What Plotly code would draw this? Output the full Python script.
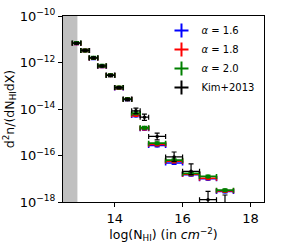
import plotly.graph_objects as go

# bin centres and half-widths in log(N_HI)
bin_centers = [12.875, 13.125, 13.375, 13.625, 13.875, 14.125, 14.375, 14.625, 14.875,
               15.25, 15.75, 16.25, 16.75, 17.25]
bin_halfwidths = [0.125, 0.125, 0.125, 0.125, 0.125, 0.125, 0.125, 0.125, 0.125,
                  0.25, 0.25, 0.25, 0.25, 0.25]

# alpha = 1.6
alpha16 = [6.76e-12, 3.31e-12, 1.55e-12, 6.9e-13, 2.82e-13, 8.1e-14, 2.6e-14, 5.25e-15, 1.41e-15,
           2.69e-16, 4.79e-17, 1.51e-17, 1.0e-17, 2.82e-18]
# alpha = 1.8
alpha18 = [6.76e-12, 3.31e-12, 1.57e-12, 7.0e-13, 2.82e-13, 8.2e-14, 2.62e-14, 5.62e-15, 1.48e-15,
           3.02e-16, 5.62e-17, 1.58e-17, 1.05e-17, 3.02e-18]
# alpha = 2.0
alpha20 = [6.9e-12, 3.31e-12, 1.62e-12, 7.2e-13, 2.85e-13, 8.5e-14, 2.65e-14, 6.61e-15, 1.58e-15,
           3.39e-16, 6.31e-17, 1.70e-17, 1.26e-17, 3.24e-18]
# Kim+2013
kim2013 = [6.76e-12, 3.31e-12, 1.58e-12, 7.08e-13, 2.82e-13, 8.32e-14, 2.63e-14, 8.32e-15, 4.47e-15,
           6.61e-16, 8.71e-17, 2.09e-17, 1.26e-18, 5.0e-19]
kim_err_plus = [6.0e-13, 3.0e-13, 1.5e-13, 6.5e-14, 2.6e-14, 8.0e-15, 2.6e-15, 2.6e-15, 1.6e-15,
                2.6e-16, 5.4e-17, 2.28e-17, 1.62e-18, 1.5e-18]
kim_err_minus = [6.0e-13, 3.0e-13, 1.5e-13, 6.5e-14, 2.6e-14, 8.0e-15, 2.6e-15, 2.0e-15, 1.2e-15,
                 1.9e-16, 3.1e-17, 0.58e-17, 1.0e-18, 3.0e-19]
model_rel_err = 0.12

y_tickvals = [1e-18, 1e-16, 1e-14, 1e-12, 1e-10]
y_ticktext = ["10<sup>\u221218</sup>", "10<sup>\u221216</sup>", "10<sup>\u221214</sup>",
              "10<sup>\u221212</sup>", "10<sup>\u221210</sup>"]
x_tickvals = [14, 16, 18]
x_ticktext = ["14", "16", "18"]

series_names_html = ["<i>\u03b1</i> = 1.6", "<i>\u03b1</i> = 1.8", "<i>\u03b1</i> = 2.0", "Kim+2013"]
colors = ["blue", "red", "green", "black"]

fig = go.Figure()

model_sets = [alpha16, alpha18, alpha20]
for vals, col in zip(model_sets, colors[:3]):
    fig.add_trace(go.Scatter(
        x=bin_centers, y=vals, mode="markers", showlegend=False,
        marker=dict(color=col, size=4),
        error_x=dict(type="data", array=bin_halfwidths, color=col, thickness=1.6, width=2.5),
        error_y=dict(type="data", array=[v * model_rel_err for v in vals], color=col,
                     thickness=1.6, width=2.5),
    ))

fig.add_trace(go.Scatter(
    x=bin_centers, y=kim2013, mode="markers", showlegend=False,
    marker=dict(color="black", size=3.5),
    error_x=dict(type="data", array=bin_halfwidths, color="black", thickness=1.2, width=2.5),
    error_y=dict(type="data", symmetric=False, array=kim_err_plus, arrayminus=kim_err_minus,
                 color="black", thickness=1.2, width=2.5),
))

# legend entries
for name, col in zip(series_names_html, colors):
    fig.add_trace(go.Scatter(
        x=[None], y=[None], mode="markers", name=name,
        marker=dict(symbol="cross-thin", size=10, color=col, line=dict(color=col, width=2)),
    ))

fig.add_shape(type="rect", xref="x", yref="paper", x0=12.3, x1=12.9, y0=0, y1=1,
              fillcolor="#c0c0c0", line=dict(width=0), layer="below")

fig.update_layout(
    width=283, height=248,
    margin=dict(l=63, r=19, t=16, b=46),
    paper_bgcolor="white", plot_bgcolor="white",
    font=dict(family="DejaVu Sans", size=13, color="black"),
    legend=dict(x=0.49, y=1.0, xanchor="left", yanchor="top", bgcolor="rgba(0,0,0,0)",
                font=dict(size=10), itemwidth=30, tracegroupgap=0),
)
fig.update_xaxes(
    range=[12.475, 18.4], tickvals=x_tickvals, ticktext=x_ticktext,
    ticks="outside", ticklen=4, tickcolor="black", showgrid=False, zeroline=False,
    showline=True, linecolor="black", linewidth=1, mirror=True, automargin=False,
    tickfont=dict(size=13),
    title=dict(text="log(N<sub>HI</sub>) (in <i>cm</i><sup>\u22122</sup>)", standoff=2,
               font=dict(size=12.5)),
)
fig.update_yaxes(
    type="log", range=[-18, -10], tickvals=y_tickvals, ticktext=y_ticktext,
    ticks="outside", ticklen=4, tickcolor="black",
    showgrid=False, zeroline=False, automargin=False,
    showline=True, linecolor="black", linewidth=1, mirror=True,
    tickfont=dict(size=13),
    title=dict(text="d<sup>2</sup>n/(dN<sub>HI</sub>dX)", standoff=2, font=dict(size=12.5)),
)

fig.write_html("out.html", config={"displayModeBar": False},
               post_script="document.body.style.margin='0';")
